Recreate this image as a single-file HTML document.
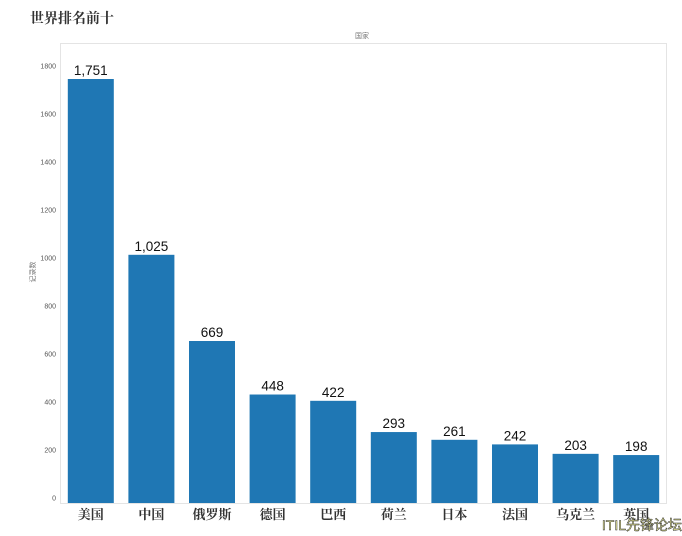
<!DOCTYPE html>
<html><head><meta charset="utf-8"><style>
body{margin:0;background:#fff;width:682px;height:536px;overflow:hidden;font-family:"Liberation Sans","Noto Sans CJK SC",sans-serif}
svg{position:absolute;left:0;top:0}
</style></head><body>
<svg width="682" height="536">
<text x="30" y="23" font-family="'Noto Serif CJK SC','Noto Sans CJK SC',serif" font-weight="bold" font-size="14" fill="#333">世界排名前十</text>
<text x="362" y="38" font-size="7" fill="#777" text-anchor="middle">国家</text>
<text transform="translate(35,272) rotate(-90)" font-size="7" fill="#777" text-anchor="middle">记录数</text>
<rect x="60.5" y="43.5" width="606" height="460" fill="none" stroke="#e4e4e4"/>
<g id="ticks"></g><g id="bars"></g>
<text x="682" y="530" text-anchor="end" font-size="14" fill="#ffffaa" stroke="#222" stroke-width="0.5">ITIL先锋论坛</text>
</svg>
<script>
const categories=["美国","中国","俄罗斯","德国","巴西","荷兰","日本","法国","乌克兰","英国"];
const values=[1751,1025,669,448,422,293,261,242,203,198];
const labels=["1,751","1,025","669","448","422","293","261","242","203","198"];
const yTicks=[0,200,400,600,800,1000,1200,1400,1600,1800];
const NS="http://www.w3.org/2000/svg";
const y0=503,k=424/1751,left=60.5,band=60.6,bw=46;
const y=v=>y0-v*k;
const ty=v=>498-v*0.24+2.5;
const x=i=>left+band*i+band/2;
function mk(t,a,p,txt){const e=document.createElementNS(NS,t);for(const n in a)e.setAttribute(n,a[n]);if(txt!==undefined)e.textContent=txt;p.appendChild(e);return e;}
const tg=document.getElementById('ticks'),bg=document.getElementById('bars');
yTicks.forEach(v=>{
 const t=mk('text',{x:56,y:ty(v),'font-size':7,fill:'#555','text-anchor':'end'},tg,v);
 
 
});
values.forEach((v,i)=>{
 const r=mk('rect',{x:x(i)-bw/2,y:y(v),width:bw,height:y0-y(v),fill:'#1f77b4'},bg);
 
 
 const l=mk('text',{x:x(i),y:y(v)-4,'font-size':13.5,fill:'#111','text-anchor':'middle'},bg,labels[i]);
 
 
 const c=mk('text',{x:x(i),y:519,'font-size':13,fill:'#333','text-anchor':'middle','font-weight':'bold','font-family':"'Noto Serif CJK SC','Noto Sans CJK SC',serif"},bg,categories[i]);
 
 
});
</script>
</body></html>
